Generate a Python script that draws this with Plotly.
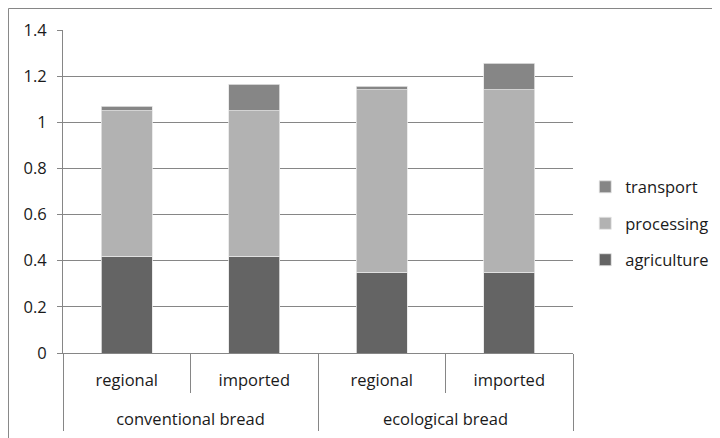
import plotly.graph_objects as go

groups = ["conventional bread", "ecological bread"]
group_of_bar = ["conventional bread", "conventional bread", "ecological bread", "ecological bread"]
origins = ["regional", "imported", "regional", "imported"]
agriculture = [0.42, 0.42, 0.35, 0.35]
processing = [0.63, 0.63, 0.79, 0.79]
transport = [0.02, 0.115, 0.017, 0.115]

keys = [g + " / " + o for g, o in zip(group_of_bar, origins)]

series = [
    ("agriculture", agriculture, "#646464", 3),
    ("processing", processing, "#b2b2b2", 2),
    ("transport", transport, "#868686", 1),
]

GRAY = "#868686"
font_family = "'Open Sans', sans-serif"
Y0 = 0.1925  # fraction of plot height below the zero line

fig = go.Figure()
for name, vals, col, rank in series:
    fig.add_trace(go.Bar(
        x=keys, y=vals, name=name,
        marker=dict(color=col, line=dict(color="#e6e6e6", width=0.8)),
        legendgroup=name, legendrank=rank,
    ))

# helper trace placing the group categories on the second x axis
fig.add_trace(go.Scatter(
    x=groups, y=[None] * len(groups), xaxis="x2", yaxis="y",
    showlegend=False, hoverinfo="skip", mode="markers",
))

fig.update_layout(
    barmode="stack",
    bargap=0.6,
    width=712, height=430,
    margin=dict(l=55, r=147, t=22, b=8, autoexpand=False),
    paper_bgcolor="white", plot_bgcolor="white",
    font=dict(family=font_family, size=16.5, color="#1a1a1a"),
    showlegend=True,
    legend=dict(
        x=1.024, xanchor="left", y=0.516, yanchor="middle",
        traceorder="grouped", tracegroupgap=12,
        font=dict(size=16.5), itemwidth=30,
    ),
    xaxis=dict(
        type="category",
        categoryorder="array", categoryarray=keys,
        range=[-0.5, len(keys) - 0.5],
        tickmode="array", tickvals=keys, ticktext=origins,
        showline=True, linecolor=GRAY, linewidth=1,
        tickson="boundaries", ticks="outside", ticklen=39, tickcolor=GRAY,
        ticklabelstandoff=12,
        showgrid=False,
    ),
    xaxis2=dict(
        type="category",
        categoryorder="array", categoryarray=groups,
        range=[-0.5, len(groups) - 0.5],
        overlaying="x", anchor="free", position=Y0, side="bottom",
        showline=False, showgrid=False,
        tickson="boundaries", ticks="outside", ticklen=77, tickcolor=GRAY,
        ticklabelstandoff=54,
    ),
    yaxis=dict(
        domain=[Y0, 1],
        range=[0, 1.4], dtick=0.2,
        showgrid=True, gridcolor=GRAY, gridwidth=1,
        showline=True, linecolor=GRAY, linewidth=1,
        ticks="outside", ticklen=5, tickcolor=GRAY,
        ticklabelstandoff=7,
        zeroline=False,
        tickformat="~g",
    ),
    shapes=[dict(type="rect", xref="paper", yref="paper",
                 x0=-0.1069, x1=1.5, y0=-0.2, y1=1.05375,
                 line=dict(color=GRAY, width=1))],
)

fig.write_html("out.html")
